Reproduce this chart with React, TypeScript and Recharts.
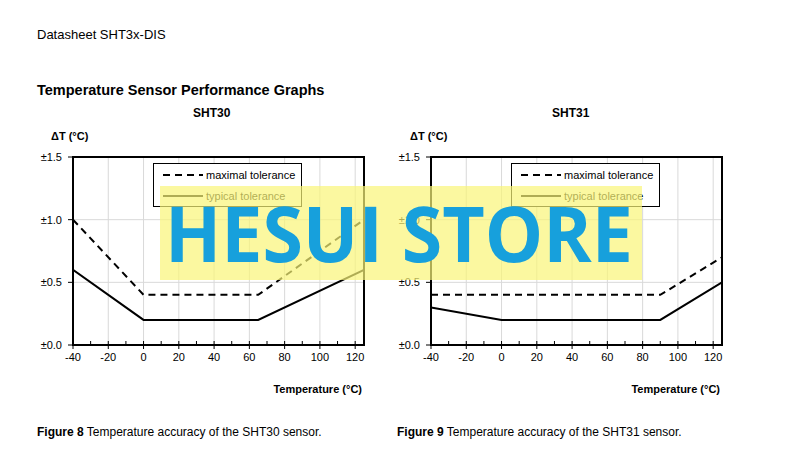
import React from "react";
import { LineChart, Line, XAxis, YAxis, CartesianGrid, ReferenceArea, Legend } from "recharts";

// SHT30 tolerance curves (deg C vs ±deltaT)
const temps30 = [-40, 0, 65, 125];
const max30 = [1.0, 0.4, 0.4, 1.0];
const typ30 = [0.6, 0.2, 0.2, 0.6];

// SHT31 tolerance curves
const temps31 = [-40, 0, 90, 125];
const max31 = [0.4, 0.4, 0.4, 0.7];
const typ31 = [0.3, 0.2, 0.2, 0.5];

const xTicks = [-40, -20, 0, 20, 40, 60, 80, 100, 120];
const xMinorTicks = [-40, -30, -20, -10, 0, 10, 20, 30, 40, 50, 60, 70, 80, 90, 100, 110, 120];
const yTicks = [0, 0.5, 1.0, 1.5];
const yMinorTicks = [0, 0.1, 0.2, 0.3, 0.4, 0.5, 0.6, 0.7, 0.8, 0.9, 1.0, 1.1, 1.2, 1.3, 1.4, 1.5];

const FONT = '"Liberation Sans", Arial, sans-serif';

const LegendBox = () => (
    <div style={{ width: 147, height: 42, border: "1px solid #000", background: "#fff", fontFamily: FONT, fontSize: 11, color: "#000" }}>
        <div style={{ display: "flex", alignItems: "center", height: 22, paddingLeft: 9 }}>
            <svg width={40} height={4}><line x1={0} y1={2} x2={40} y2={2} stroke="#000" strokeWidth={2} strokeDasharray="7 5" /></svg>
            <span style={{ marginLeft: 3 }}>maximal tolerance</span>
        </div>
        <div style={{ display: "flex", alignItems: "center", height: 20, paddingLeft: 9 }}>
            <svg width={40} height={4}><line x1={0} y1={2} x2={40} y2={2} stroke="#000" strokeWidth={2} /></svg>
            <span style={{ marginLeft: 3 }}>typical tolerance</span>
        </div>
    </div>
);

const SensorChart: React.FC<{ temps: number[]; maxTol: number[]; typTol: number[]; left: number }> = ({ temps, maxTol, typTol, left }) => {
    const data = temps.map((t, i) => ({ t, max: maxTol[i], typ: typTol[i] }));
    const fmtY = (v: number) => "±" + v.toFixed(1);
    return (
        <div style={{ position: "absolute", left, top: 140 }}>
            <LineChart width={360} height={270} data={data} margin={{ top: 17, right: 19, left: 10, bottom: 15 }}>
                <CartesianGrid stroke="#d9d9d9" strokeWidth={1} />
                <XAxis dataKey="t" type="number" domain={[-40, 125]} ticks={xTicks} allowDataOverflow
                    height={50} tickSize={4} tickMargin={4} axisLine={{ stroke: "#000", strokeWidth: 2 }}
                    tickLine={{ stroke: "#000" }} tick={{ fill: "#000", fontSize: 11, fontFamily: FONT }}
                    label={{ value: "Temperature (°C)", position: "insideBottomRight", offset: 2, fill: "#000", fontSize: 11, fontWeight: 700, fontFamily: FONT }} />
                <XAxis xAxisId="minor" dataKey="t" type="number" domain={[-40, 125]} ticks={xMinorTicks} allowDataOverflow
                    mirror height={10} tickSize={4} axisLine={false} tickLine={{ stroke: "#000" }} tickFormatter={() => ""} />
                <YAxis type="number" domain={[0, 1.5]} ticks={yTicks} width={40} tickSize={5} tickMargin={6}
                    tickFormatter={fmtY} axisLine={{ stroke: "#000", strokeWidth: 2 }} tickLine={{ stroke: "#000" }}
                    tick={{ fill: "#000", fontSize: 11, fontFamily: FONT }} />
                <YAxis yAxisId="minor" type="number" domain={[0, 1.5]} ticks={yMinorTicks} mirror width={10} tickSize={4}
                    axisLine={false} tickLine={{ stroke: "#000" }} tickFormatter={() => ""} />
                <Line dataKey="max" stroke="#000" strokeWidth={2} strokeDasharray="7 5" dot={false} isAnimationActive={false} />
                <Line dataKey="typ" stroke="#000" strokeWidth={2} dot={false} isAnimationActive={false} />
                <ReferenceArea x1={-40} x2={125} y1={0} y2={1.5} fill="none" stroke="#000" strokeWidth={2} ifOverflow="visible" />
                <Legend layout="horizontal" verticalAlign="middle" align="center" content={() => <LegendBox />}
                    wrapperStyle={{ left: 130, top: 23, width: 149, height: 44 }} />
            </LineChart>
        </div>
    );
};

const textBase: React.CSSProperties = { position: "absolute", fontFamily: FONT, color: "#000", whiteSpace: "nowrap", lineHeight: 1 };

export default function App() {
    return (
        <div style={{ position: "absolute", left: 0, top: 0, width: 800, height: 466, background: "#fff", overflow: "hidden" }}>
            <div style={{ ...textBase, left: 37, top: 28, fontSize: 13 }}>Datasheet SHT3x-DIS</div>
            <div style={{ ...textBase, left: 37, top: 83, fontSize: 14.5, fontWeight: 700 }}>Temperature Sensor Performance Graphs</div>
            <div style={{ ...textBase, left: 193, top: 107, fontSize: 12, fontWeight: 700 }}>SHT30</div>
            <div style={{ ...textBase, left: 552, top: 107, fontSize: 12, fontWeight: 700 }}>SHT31</div>
            <div style={{ ...textBase, left: 51, top: 131, fontSize: 11, fontWeight: 700 }}>ΔT (°C)</div>
            <div style={{ ...textBase, left: 410, top: 131, fontSize: 11, fontWeight: 700 }}>ΔT (°C)</div>

            <SensorChart temps={temps30} maxTol={max30} typTol={typ30} left={23} />
            <SensorChart temps={temps31} maxTol={max31} typTol={typ31} left={381} />

            <div style={{ ...textBase, left: 37, top: 426, fontSize: 12 }}><b>Figure 8</b> Temperature accuracy of the SHT30 sensor.</div>
            <div style={{ ...textBase, left: 397, top: 426, fontSize: 12 }}><b>Figure 9</b> Temperature accuracy of the SHT31 sensor.</div>

            {/* watermark overlay */}
            <svg style={{ position: "absolute", left: 160, top: 186 }} width={482} height={94}>
                <rect x={0} y={0} width={482} height={94} fill="rgb(250,245,120)" fillOpacity={0.7} />
                <text x={5} y={76} fontSize={77} fontWeight={700} fontFamily='"Open Sans", sans-serif' fill="#17a0dc"
                    textLength={468} lengthAdjust="spacingAndGlyphs">HESUI STORE</text>
            </svg>
        </div>
    );
}
